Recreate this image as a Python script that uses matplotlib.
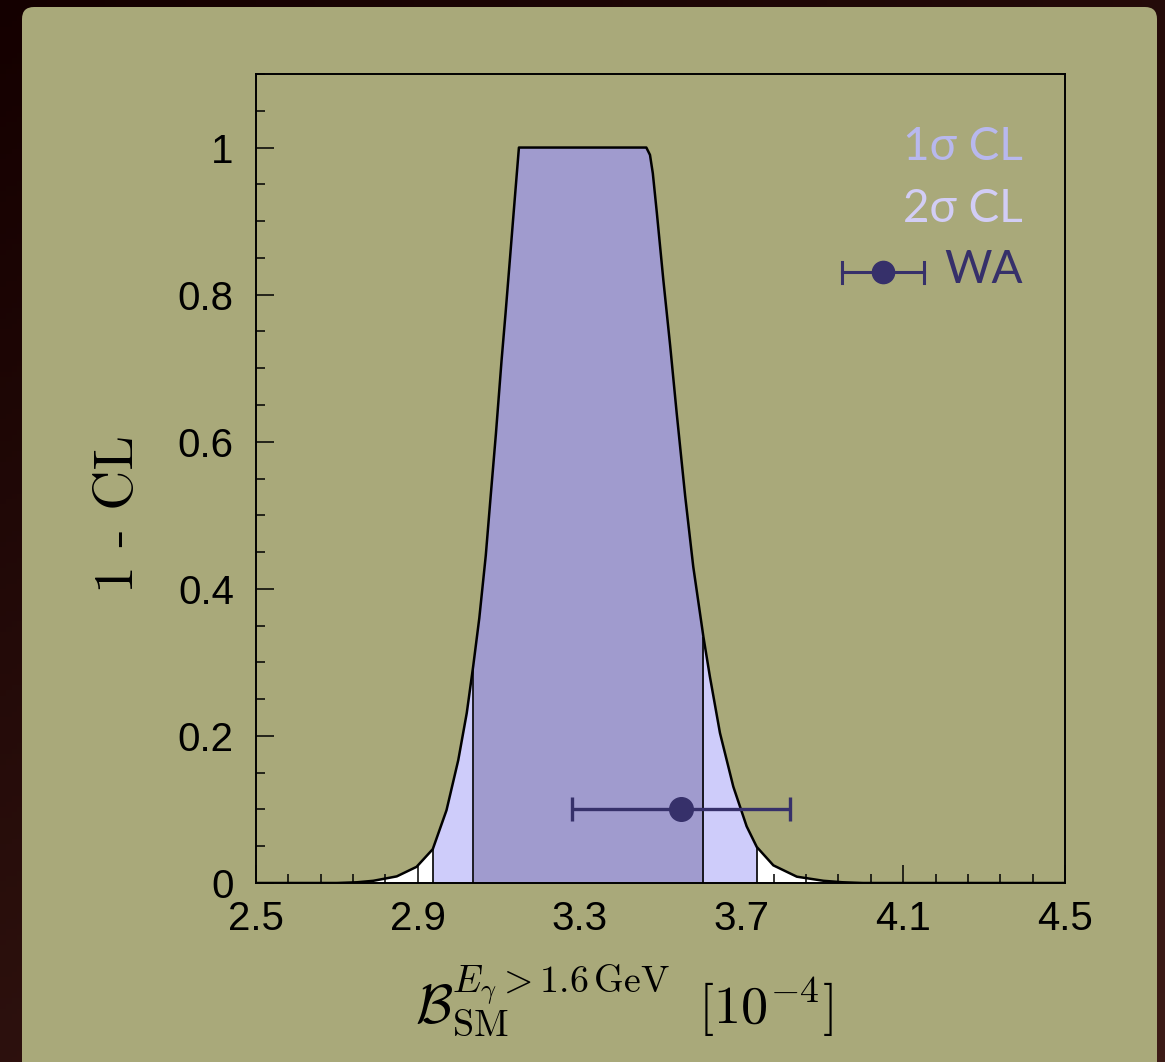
import numpy as np
import matplotlib
matplotlib.use("Agg")
from matplotlib import pyplot as plt
from matplotlib.patches import FancyBboxPatch
from matplotlib.transforms import IdentityTransform
from matplotlib.ticker import AutoMinorLocator

plt.rcParams['mathtext.fontset'] = 'cm'

# 1 - CL curve (x in units of 1e-4)
x_cl = [2.50, 2.70, 2.75, 2.79, 2.848, 2.897, 2.937, 2.971, 3.000, 3.021, 3.037,
        3.052, 3.068, 3.080, 3.093, 3.107, 3.117, 3.128, 3.136, 3.150, 3.300,
        3.465, 3.474, 3.481, 3.491, 3.507, 3.524, 3.540, 3.561, 3.581, 3.606,
        3.622, 3.647, 3.680, 3.713, 3.738, 3.779, 3.837, 3.903, 3.950, 4.000, 4.50]
cl = [0.0, 0.0, 0.001, 0.003, 0.009, 0.022, 0.046, 0.099, 0.167, 0.231, 0.295,
      0.360, 0.445, 0.525, 0.610, 0.710, 0.775, 0.850, 0.905, 1.0, 1.0,
      1.0, 0.99, 0.965, 0.911, 0.820, 0.730, 0.639, 0.526, 0.430, 0.335,
      0.281, 0.204, 0.131, 0.077, 0.049, 0.024, 0.0086, 0.003, 0.001, 0.0, 0.0]

one_sigma = (3.037, 3.606)
two_sigma = (2.937, 3.738)

# world average measurement
wa_val = 3.55
wa_err = 0.27
wa_y = 0.1

x_ticks = [2.5, 2.9, 3.3, 3.7, 4.1, 4.5]
y_ticks = [0, 0.2, 0.4, 0.6, 0.8, 1]
y_labels = ["0", "0.2", "0.4", "0.6", "0.8", "1"]

legend_labels = ["1σ CL", "2σ CL", "WA"]

olive = "#A9A97A"
c1 = "#A09BCE"
c2 = "#CECCFA"
navy = "#36306A"

fig = plt.figure(figsize=(11.65, 10.62), dpi=100)

# dark brown background with a soft gradient
bg = fig.add_axes([0, 0, 1, 1], zorder=-10)
gy, gx = np.mgrid[0:1:200j, 0:1:200j]
t = np.clip(0.6 * gy + 0.4 * gx, 0, 1)[..., None]
top = np.array([0.08, 0.0, 0.0])
bot = np.array([0.24, 0.11, 0.09])
bg.imshow(top * (1 - t) + bot * t, aspect='auto', extent=[0, 1, 0, 1], origin='upper')
bg.set_axis_off()

panel = FancyBboxPatch((22, -40), 1135, 1095, boxstyle="round,pad=0,rounding_size=12",
                       transform=IdentityTransform(), facecolor=olive, edgecolor='none',
                       zorder=-5)
fig.patches.append(panel)

ax = fig.add_axes([256 / 1165, 1 - 883 / 1062, 809 / 1165, 809 / 1062])
ax.set_facecolor(olive)

x_arr = np.array(x_cl)
y_arr = np.array(cl)
ax.fill_between(x_arr, 0, y_arr, color='white', lw=0, zorder=1)
m2 = (x_arr >= two_sigma[0]) & (x_arr <= two_sigma[1])
ax.fill_between(x_arr, 0, y_arr, where=m2, color=c2, lw=0, zorder=2)
m1 = (x_arr >= one_sigma[0]) & (x_arr <= one_sigma[1])
ax.fill_between(x_arr, 0, y_arr, where=m1, color=c1, lw=0, zorder=3)
for xb in one_sigma + two_sigma:
    ax.vlines(xb, 0, np.interp(xb, x_arr, y_arr), color='black', lw=1.2, zorder=4)
ax.plot(x_arr, y_arr, color='black', lw=1.8, zorder=5)

ax.errorbar([wa_val], [wa_y], xerr=[wa_err], fmt='o', color=navy, ms=17,
            elinewidth=2.4, capsize=8.5, capthick=2.4, zorder=6)

ax.set_xlim(2.5, 4.5)
ax.set_ylim(0, 1.1)
ax.set_xticks(x_ticks)
ax.set_xticklabels([str(v) for v in x_ticks])
ax.set_yticks(y_ticks)
ax.set_yticklabels(y_labels)
ax.xaxis.set_minor_locator(AutoMinorLocator(5))
ax.yaxis.set_minor_locator(AutoMinorLocator(4))
ax.tick_params(which='both', direction='in', top=False, right=False, width=1.1)
ax.tick_params(which='major', length=13)
ax.tick_params(which='minor', length=6.5)
ax.tick_params(axis='x', pad=12)
ax.tick_params(axis='y', pad=16)
for lab in ax.get_xticklabels() + ax.get_yticklabels():
    lab.set_fontfamily('Liberation Sans')
    lab.set_fontsize(29)
for s in ax.spines.values():
    s.set_linewidth(1.4)
    s.set_zorder(10)

ax.set_xlabel(r'$\mathcal{B}_{\mathrm{SM}}^{E_{\gamma}>1.6\,\mathrm{GeV}}\;\;[10^{-4}]$',
              fontsize=39)
ax.xaxis.set_label_coords(0.455, -0.098)
ax.set_ylabel("1 - CL", fontsize=40, fontfamily='cmr10')
ax.yaxis.set_label_coords(-0.139, 0.456)

# legend drawn by hand (right aligned coloured text)
leg_font = ['Lato', 'DejaVu Sans']
ax.text(0.948, 0.894, legend_labels[0], transform=ax.transAxes, ha='right',
        va='baseline', color="#B8B8EE", fontsize=33, family=leg_font)
ax.text(0.948, 0.817, legend_labels[1], transform=ax.transAxes, ha='right',
        va='baseline', color="#D2CDF5", fontsize=33, family=leg_font)
ax.text(0.948, 0.742, legend_labels[2], transform=ax.transAxes, ha='right',
        va='baseline', color=navy, fontsize=33, family=leg_font)
ax.plot([0.724, 0.826], [0.755, 0.755], transform=ax.transAxes, color=navy, lw=2.2)
ax.plot([0.724, 0.724], [0.742, 0.768], transform=ax.transAxes, color=navy, lw=2.2)
ax.plot([0.826, 0.826], [0.742, 0.768], transform=ax.transAxes, color=navy, lw=2.2)
ax.plot([0.775], [0.755], 'o', transform=ax.transAxes, color=navy, ms=16)

fig.savefig("out.png", dpi=100, facecolor=fig.get_facecolor())
